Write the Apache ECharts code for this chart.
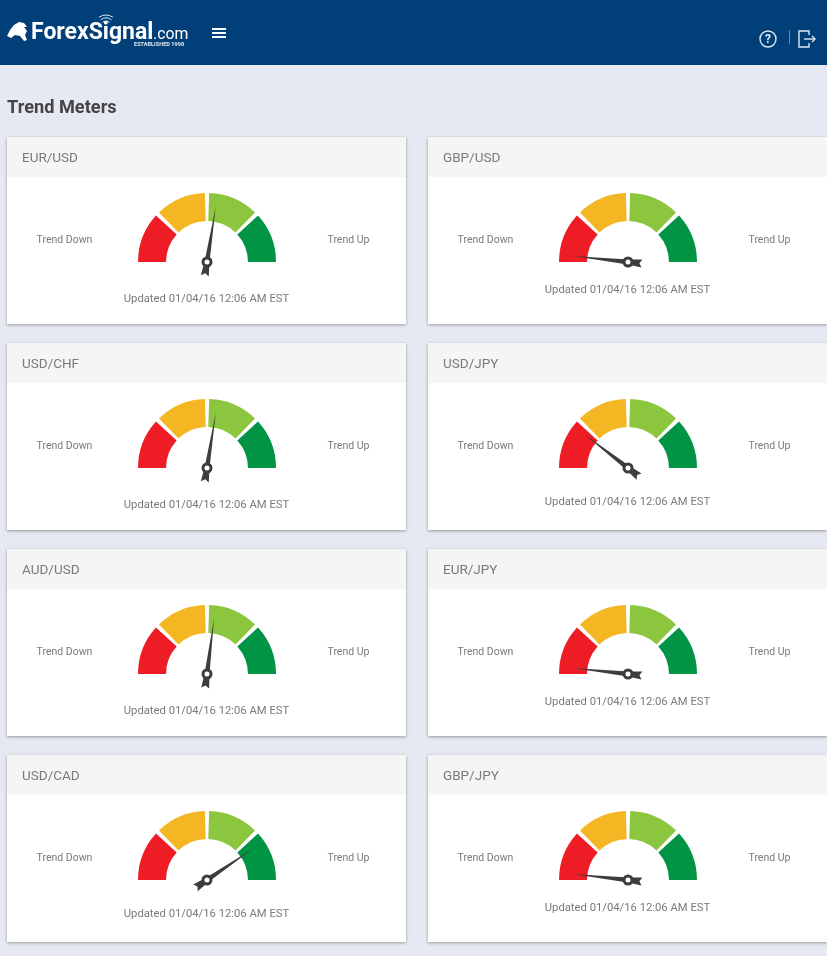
<!DOCTYPE html>
<html>
<head>
<meta charset="utf-8">
<title>Trend Meters</title>
<style>
html,body{margin:0;padding:0;background:#e6e9f1;}
#main{width:827px;height:956px;}
</style>
<script src="https://cdn.jsdelivr.net/npm/echarts@6/dist/echarts.min.js"></script>
</head>
<body>
<div id="main"></div>
<script>
// pairs, left column then right column, top to bottom
var pairs=['EUR/USD','USD/CHF','AUD/USD','USD/CAD','GBP/USD','USD/JPY','EUR/JPY','GBP/JPY'];
// needle value on a 0-100 dial
var needleValues=[55,55,54,81,3.4,21,3.4,3.4];
var updatedText='Updated 01/04/16 12:06 AM EST';
var bandNames=['Down','Slightly Down','Slightly Up','Up'];
var bandValues=[1,1,1,1];
var bandColors=['#ee1c25','#f5b623','#8cc63f','#009444'];
// how far the "Updated" line sits under the dial centre
var updatedDrop=[36,36,36,33,27,33,27,27];

var cardTops=[137,343,549,755];
var cardLefts=[7,428];
var needlePath='path://M5 0 L7.8 56 L9.5 70 L5 67.5 L0.5 70 L2.2 56 Z';
var iconStroke={fill:'none',stroke:'#dfe8f1',lineWidth:1.4};
var textGrey='#7a7a7a';

var graphics=[];
var series=[];

function addText(x,y,text,size,color,align,weight){
	graphics.push({type:'text',x:x,y:y,style:{
		text:text,fill:color,align:align||'left',verticalAlign:'middle',
		font:(weight||'normal')+' '+size+'px Roboto, sans-serif'
	}});
}
function addRect(x,y,w,h,fill,extra){
	graphics.push({type:'rect',shape:{x:x,y:y,width:w,height:h},style:Object.assign({fill:fill},extra||{})});
}
function addLine(points){
	graphics.push({type:'polyline',shape:{points:points},style:iconStroke});
}
function addWifi(r){
	graphics.push({type:'arc',shape:{cx:106,cy:27,r:r,startAngle:-2.2,endAngle:-0.94,clockwise:true},
		style:{fill:'none',stroke:'#dfe8f1',lineWidth:1}});
}

////page header////
addRect(0,0,827,65,'#003f78');
graphics.push({type:'polygon',shape:{points:[[7,36],[10,30],[14,25],[19,22],[24,23],[27,27],[24,27],[27,31],[25,35],[27,40],[24,41],[20,36],[15,35],[11,38]]},style:{fill:'#fff'}});
addText(31,33,'ForexSignal',23,'#fff','left','bold');
addText(153,35,'.com',15.8,'#fff');
addText(134,45,'ESTABLISHED 1998',5.6,'#dfe8f1','left','bold');
addWifi(6);addWifi(9);addWifi(12);
addRect(212,28,14,2,'#fff');
addRect(212,32,14,2,'#fff');
addRect(212,36,14,2,'#fff');
graphics.push({type:'circle',shape:{cx:768,cy:39,r:8},style:iconStroke});
addText(768,39.5,'?',12,'#dfe8f1','center','bold');
addRect(789,30,1,14,'#5f87ad');
addLine([[809,35],[809,31],[799,31],[799,47],[809,47],[809,43]]);
addLine([[804,39],[815,39]]);
addLine([[812,36],[815,39],[812,42]]);

addText(7,108,'Trend Meters',18.2,'#444','left','bold');

////one card per pair////
pairs.forEach(function(name,i){
	var col=i<4?0:1;
	var x=cardLefts[col];
	var y=cardTops[i%4];
	var cx=x+200;
	var cy=y+125;
	addRect(x,y,399,187,'#fff',{shadowBlur:3,shadowOffsetY:1,shadowColor:'rgba(0,0,0,0.35)'});
	addRect(x,y,399,40,'#f5f5f5');
	addText(x+15,y+22,name,13.5,textGrey);
	addText(cx-142.5,cy-22,'Trend Down',10.5,textGrey,'center');
	addText(cx+141.5,cy-22,'Trend Up',10.5,textGrey,'center');
	addText(cx-0.5,cy+updatedDrop[i]+1,updatedText,11.25,textGrey,'center');

	// coloured bands
	series.push({
		type:'pie',silent:true,animation:false,z:2,
		center:[cx,cy],radius:[41,69],
		startAngle:181.8,endAngle:-1.8,padAngle:3.6,
		label:{show:false},labelLine:{show:false},
		data:bandNames.map(function(b,k){
			return {name:b,value:bandValues[k],itemStyle:{color:bandColors[k]}};
		})
	});
	// needle, kept above the bands
	series.push({
		type:'gauge',silent:true,animation:false,z:5,
		center:[cx,cy],radius:69,
		startAngle:180,endAngle:0,min:0,max:100,
		axisLine:{show:false},axisTick:{show:false},splitLine:{show:false},axisLabel:{show:false},
		title:{show:false},detail:{show:false},
		pointer:{icon:needlePath,length:70,width:8,offsetCenter:[0,14],keepAspect:false,
			itemStyle:{color:'#3d3d3d'}},
		anchor:{show:true,showAbove:true,size:8,
			itemStyle:{color:'#fff',borderColor:'#3d3d3d',borderWidth:3}},
		data:[{value:needleValues[i],name:name}]
	});
});

var myChart=echarts.init(document.getElementById('main'));
myChart.setOption({
	backgroundColor:'#e6e9f1',
	animation:false,
	tooltip:{show:false},
	graphic:graphics,
	series:series
});
</script>
</body>
</html>
